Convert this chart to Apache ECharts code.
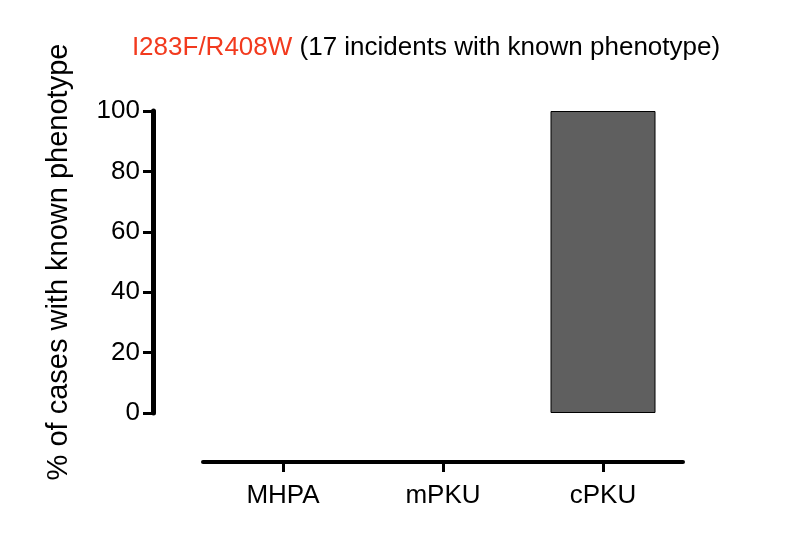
<!DOCTYPE html>
<html><head><meta charset="utf-8">
<script src="https://cdn.jsdelivr.net/npm/echarts@6/dist/echarts.min.js"></script>
<style>html,body{margin:0;padding:0;background:#fff}#c{width:800px;height:550px}</style>
</head><body><div id="c"></div>
<script>
const categories = ['MHPA', 'mPKU', 'cPKU'];
const values = [0, 0, 100];
const titleRed = 'I283F/R408W';
const titleRest = ' (17 incidents with known phenotype)';
const yName = '% of cases with known phenotype';

const chart = echarts.init(document.getElementById('c'), null, {renderer: 'canvas'});
const font = 'Liberation Sans, Arial, sans-serif';
chart.setOption({
  animation: false,
  backgroundColor: '#fff',
  title: {
    text: '{r|' + titleRed + '}{k|' + titleRest + '}',
    left: 421, top: 30, textAlign: 'center',
    textStyle: {
      rich: {
        r: {color: '#f23a1e', fontSize: 26, fontFamily: font, fontWeight: 'normal'},
        k: {color: '#000', fontSize: 26, fontFamily: font, fontWeight: 'normal'}
      }
    }
  },
  grid: {left: 203, right: 117, top: 111, bottom: 137},
  xAxis: {
    type: 'category', data: categories, offset: 49,
    axisLine: {onZero: false, lineStyle: {color: '#000', width: 4}},
    axisTick: {show: true, alignWithLabel: true, length: 10, lineStyle: {color: '#000', width: 3}},
    axisLabel: {color: '#000', fontSize: 26, fontFamily: font, margin: 21}
  },
  yAxis: {
    type: 'value', min: 0, max: 100, interval: 20, offset: 50,
    name: yName, nameLocation: 'middle', nameGap: 80, nameRotate: 90,
    nameTextStyle: {color: '#000', fontSize: 29, fontFamily: font},
    axisLine: {show: true, lineStyle: {color: '#000', width: 5}},
    axisTick: {show: true, length: 10, lineStyle: {color: '#000', width: 3}},
    axisLabel: {color: '#000', fontSize: 26, fontFamily: font, margin: 13},
    splitLine: {show: false}
  },
  series: [{
    type: 'bar', barWidth: 105,
    data: values.map(v => ({value: v, itemStyle: {borderWidth: v > 0 ? 1 : 0}})),
    itemStyle: {color: '#5f5f5f', borderColor: '#000'}
  }]
});
</script></body></html>
